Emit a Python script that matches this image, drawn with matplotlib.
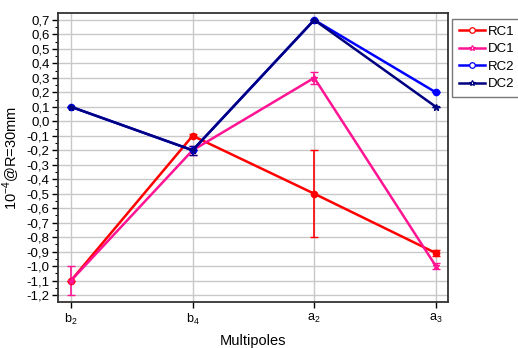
import matplotlib
matplotlib.use("Agg")
import matplotlib.pyplot as plt
import numpy as np
from matplotlib.ticker import MultipleLocator, FuncFormatter
from matplotlib.lines import Line2D

plt.rcParams['font.family'] = ['Liberation Sans', 'DejaVu Sans']
plt.rcParams['mathtext.fontset'] = 'custom'
plt.rcParams['mathtext.rm'] = 'Liberation Sans'

categories = ['b$_2$', 'b$_4$', 'a$_2$', 'a$_3$']
rc1 = [-1.1, -0.1, -0.5, -0.91]
rc1_err = [0.0, 0.01, 0.3, 0.02]
dc1 = [-1.1, -0.2, 0.3, -1.0]
dc1_err = [0.1, 0.03, 0.04, 0.02]
rc2 = [0.1, -0.2, 0.7, 0.2]
rc2_err = [0.0, 0.0, 0.0, 0.0]
dc2 = [0.1, -0.2, 0.7, 0.1]
dc2_err = [0.0, 0.03, 0.0, 0.0]

fig = plt.figure(figsize=(5.18, 3.48), dpi=100)
ax = fig.add_axes([58/518, 1-302/348, 390/518, 289/348])

x = np.arange(len(categories))
series = [
    ('RC1', rc1, rc1_err, '#ff0000', 'o'),
    ('DC1', dc1, dc1_err, '#ff1493', '*'),
    ('RC2', rc2, rc2_err, '#0000ff', 'o'),
    ('DC2', dc2, dc2_err, '#000080', '*'),
]
handles = []
for name, y, e, c, m in series:
    ax.errorbar(x, y, yerr=e, color=c, marker=m, markersize=4.5,
                markerfacecolor=c, markeredgewidth=1.0, lw=1.8,
                capsize=3, elinewidth=1.2, capthick=1.2, zorder=3)
    handles.append(Line2D([], [], color=c, marker=m, markersize=4,
                          markerfacecolor='white', markeredgewidth=0.9, lw=1.8, label=name))

ax.set_xlim(-0.107, 3.1)
ax.set_ylim(-1.248, 0.748)
ax.set_xticks(x)
ax.set_xticklabels(categories, fontsize=9)
ax.yaxis.set_major_locator(MultipleLocator(0.1))
ax.yaxis.set_minor_locator(MultipleLocator(0.05))
ax.yaxis.set_major_formatter(FuncFormatter(lambda v, p: ('%.1f' % v).replace('-0.0', '0.0').replace('.', ',')))
ax.tick_params(axis='y', labelsize=9.5, direction='out', length=4, width=1, pad=2)
ax.tick_params(axis='y', which='minor', length=2.5, width=0.8)
ax.tick_params(axis='x', labelsize=9, direction='out', length=4, width=1, pad=3)
ax.grid(True, color='#c8c8c8', lw=1)
ax.set_axisbelow(True)
for s in ax.spines.values():
    s.set_linewidth(1.3)
    s.set_color('#333333')

ax.set_xlabel('Multipoles', fontsize=10.5, labelpad=5)
ax.set_ylabel('10$^{-4}$@R=30mm', fontsize=10.5, labelpad=3)

leg = fig.legend(handles=handles, loc='upper left', bbox_to_anchor=(452/518, 1-19/348),
                 fontsize=9.5, frameon=True, fancybox=False, edgecolor='#555555',
                 handlelength=2.0, borderpad=0.5, labelspacing=0.4, handletextpad=0.25,
                 borderaxespad=0)
leg.get_frame().set_linewidth(1.0)

fig.savefig('out.png', dpi=100)
